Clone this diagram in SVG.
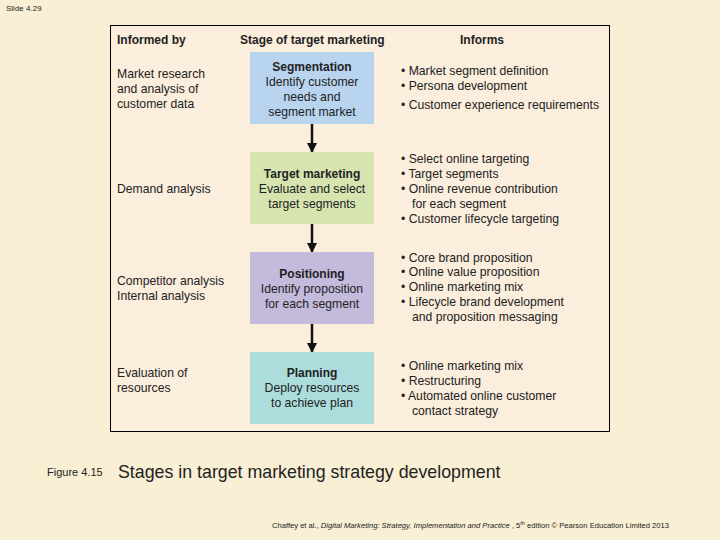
<svg xmlns="http://www.w3.org/2000/svg" width="720" height="540" viewBox="0 0 720 540">
<style>
text{font-family:"Liberation Sans",Arial,sans-serif;fill:#222}
.h{font-size:12px;font-weight:bold}
.t{font-size:12.2px}
.b{font-size:12px;font-weight:bold;text-anchor:middle}
.c{font-size:12.2px;text-anchor:middle}
.box{stroke:none}
</style>
<defs><marker id="a" markerWidth="10" markerHeight="10" refX="9" refY="5" orient="auto" markerUnits="userSpaceOnUse" viewBox="0 0 10 10"><path d="M0,0 L10,5 L0,10 z" fill="#111"/></marker></defs>
<rect width="720" height="540" fill="#f8efd4"/>
<text x="6" y="11" style="font-size:8px">Slide 4.29</text>
<rect x="110.5" y="25.5" width="499" height="406" fill="#fbeedd" stroke="#000" stroke-width="1"/>
<text class="h" x="117" y="44">Informed by</text>
<text class="h" x="240" y="44">Stage of target marketing</text>
<text class="h" x="460" y="44">Informs</text>
<g id="connectors" stroke="#111" stroke-width="2.5">
<line x1="312" y1="124" x2="312" y2="152" marker-end="url(#a)"/>
<line x1="312" y1="224" x2="312" y2="252" marker-end="url(#a)"/>
<line x1="312" y1="324" x2="312" y2="352" marker-end="url(#a)"/>
</g>
<g id="seg"><rect class="box" x="250" y="52" width="124" height="72" fill="#b8d4ee"/>
<text class="b" x="312" y="71">Segmentation</text><text class="c" x="312" y="86">Identify customer</text><text class="c" x="312" y="101">needs and</text><text class="c" x="312" y="116">segment market</text></g>
<g id="target"><rect class="box" x="250" y="152" width="124" height="72" fill="#d6e4b0"/>
<text class="b" x="312" y="178">Target marketing</text><text class="c" x="312" y="193">Evaluate and select</text><text class="c" x="312" y="208">target segments</text></g>
<g id="pos"><rect class="box" x="250" y="252" width="124" height="72" fill="#c4badc"/>
<text class="b" x="312" y="278">Positioning</text><text class="c" x="312" y="293">Identify proposition</text><text class="c" x="312" y="308">for each segment</text></g>
<g id="plan"><rect class="box" x="250" y="352" width="124" height="72" fill="#acdcdc"/>
<text class="b" x="312" y="377">Planning</text><text class="c" x="312" y="392">Deploy resources</text><text class="c" x="312" y="407">to achieve plan</text></g>
<g id="left">
<text class="t" x="117" y="78">Market research</text><text class="t" x="117" y="93">and analysis of</text><text class="t" x="117" y="108">customer data</text>
<text class="t" x="117" y="193">Demand analysis</text>
<text class="t" x="117" y="285">Competitor analysis</text><text class="t" x="117" y="300">Internal analysis</text>
<text class="t" x="117" y="377">Evaluation of</text><text class="t" x="117" y="392">resources</text>
</g>
<g id="right">
<text class="t" x="401" y="75">• Market segment definition</text><text class="t" x="401" y="90">• Persona development</text><text class="t" x="401" y="109">• Customer experience requirements</text>
<text class="t" x="401" y="163">• Select online targeting</text><text class="t" x="401" y="178">• Target segments</text><text class="t" x="401" y="193">• Online revenue contribution</text><text class="t" x="412" y="208">for each segment</text><text class="t" x="401" y="223">• Customer lifecycle targeting</text>
<text class="t" x="401" y="262">• Core brand proposition</text><text class="t" x="401" y="276">• Online value proposition</text><text class="t" x="401" y="291">• Online marketing mix</text><text class="t" x="401" y="306">• Lifecycle brand development</text><text class="t" x="412" y="321">and proposition messaging</text>
<text class="t" x="401" y="370">• Online marketing mix</text><text class="t" x="401" y="385">• Restructuring</text><text class="t" x="401" y="400">• Automated online customer</text><text class="t" x="412" y="415">contact strategy</text>
</g>
<text x="47" y="476" style="font-size:11px">Figure 4.15</text>
<text x="118" y="478" style="font-size:17.8px">Stages in target marketing strategy development</text>
<text x="272" y="528" style="font-size:7.6px">Chaffey et al., <tspan font-style="italic">Digital Marketing: Strategy, Implementation and Practice</tspan> , 5<tspan dy="-3" font-size="5.5">th</tspan><tspan dy="3"> edition © Pearson Education Limited 2013</tspan></text>
</svg>
